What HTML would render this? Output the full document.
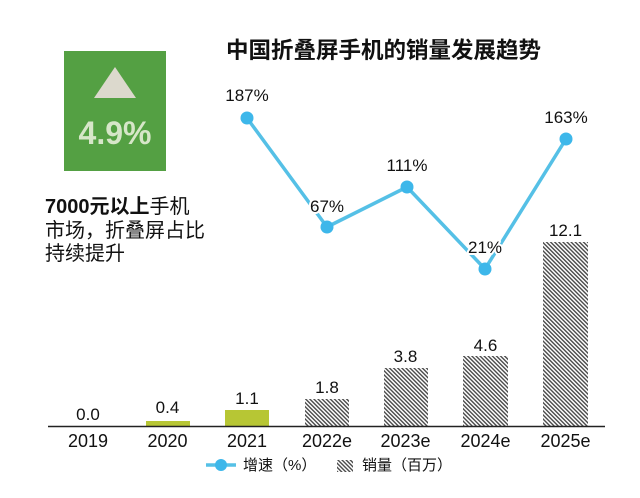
<!DOCTYPE html>
<html>
<head>
<meta charset="utf-8">
<style>
html,body{margin:0;padding:0;background:#fff;}
body{width:640px;height:498px;overflow:hidden;}
svg{display:block;}
.num{font-family:"Liberation Sans","Noto Sans CJK SC",sans-serif;}
.cjk{font-family:"Liberation Sans","Noto Sans CJK SC",sans-serif;}
</style>
</head>
<body>
<svg width="640" height="498" viewBox="0 0 640 498" xmlns="http://www.w3.org/2000/svg">
  <defs>
    <pattern id="hatch" patternUnits="userSpaceOnUse" width="2.9" height="8" patternTransform="rotate(-45)">
      <rect x="0" y="0" width="1.4" height="8" fill="#4a4a4a"/>
    </pattern>
  </defs>
  <rect width="640" height="498" fill="#fff"/>

  <!-- Green box -->
  <rect x="64" y="51" width="102" height="120" fill="#54a043"/>
  <polygon points="115,67 94,98 136,98" fill="#dcd9cd"/>
  <text x="115" y="144" text-anchor="middle" class="num" font-size="32" font-weight="bold" fill="#d6e6c8">4.9%</text>

  <!-- Left text -->
  <text x="45" y="213" class="cjk" font-size="20" fill="#111"><tspan font-weight="bold">7000元以上</tspan>手机</text>
  <text x="45" y="237" class="cjk" font-size="20" fill="#111">市场，折叠屏占比</text>
  <text x="45" y="260" class="cjk" font-size="20" fill="#111">持续提升</text>

  <!-- Title -->
  <text x="226" y="58" class="cjk" font-size="22.5" font-weight="bold" fill="#111">中国折叠屏手机的销量发展趋势</text>

  <!-- Bars -->
  <rect x="146" y="421" width="44" height="6" fill="#b7c634"/>
  <rect x="225" y="410" width="44" height="17" fill="#b7c634"/>
  <rect x="305" y="399" width="44" height="28" fill="url(#hatch)"/>
  <rect x="384" y="368" width="44" height="59" fill="url(#hatch)"/>
  <rect x="463" y="356" width="45" height="71" fill="url(#hatch)"/>
  <rect x="543" y="242" width="45" height="185" fill="url(#hatch)"/>

  <!-- Axis -->
  <line x1="48" y1="426.5" x2="605" y2="426.5" stroke="#222" stroke-width="1.5"/>

  <!-- Bar value labels -->
  <g class="num" font-size="17" fill="#111" text-anchor="middle">
    <text x="88" y="420">0.0</text>
    <text x="167.5" y="413">0.4</text>
    <text x="247" y="404">1.1</text>
    <text x="327" y="393">1.8</text>
    <text x="405.5" y="362">3.8</text>
    <text x="485.5" y="351">4.6</text>
    <text x="565.5" y="236">12.1</text>
  </g>

  <!-- Year labels -->
  <g class="num" font-size="18" fill="#111" text-anchor="middle">
    <text x="88" y="447">2019</text>
    <text x="167.5" y="447">2020</text>
    <text x="247" y="447">2021</text>
    <text x="327" y="447">2022e</text>
    <text x="405.5" y="447">2023e</text>
    <text x="485.5" y="447">2024e</text>
    <text x="565.5" y="447">2025e</text>
  </g>

  <!-- Growth line -->
  <polyline points="247,118 327,227 407,187 485,269 566,139" fill="none" stroke="#55c0e6" stroke-width="3.5" stroke-linejoin="round"/>
  <g fill="#3db7ea">
    <circle cx="247" cy="118" r="6.5"/>
    <circle cx="327" cy="227" r="6.5"/>
    <circle cx="407" cy="187" r="6.5"/>
    <circle cx="485" cy="269" r="6.5"/>
    <circle cx="566" cy="139" r="6.5"/>
  </g>

  <!-- Percent labels -->
  <g class="num" font-size="17" fill="#111" text-anchor="middle" stroke="#fff" stroke-width="4" paint-order="stroke" stroke-linejoin="round">
    <text x="247" y="101">187%</text>
    <text x="327" y="212">67%</text>
    <text x="407" y="171">111%</text>
    <text x="485" y="253">21%</text>
    <text x="566" y="123">163%</text>
  </g>

  <!-- Legend -->
  <line x1="206" y1="465" x2="236" y2="465" stroke="#55c0e6" stroke-width="3.5"/>
  <circle cx="221" cy="465" r="6" fill="#3db7ea"/>
  <text x="243" y="470" class="cjk" font-size="15" fill="#111">增速（%）</text>
  <rect x="337" y="460" width="16" height="12" fill="url(#hatch)"/>
  <text x="362" y="470" class="cjk" font-size="15" fill="#111">销量（百万）</text>
</svg>
</body>
</html>
